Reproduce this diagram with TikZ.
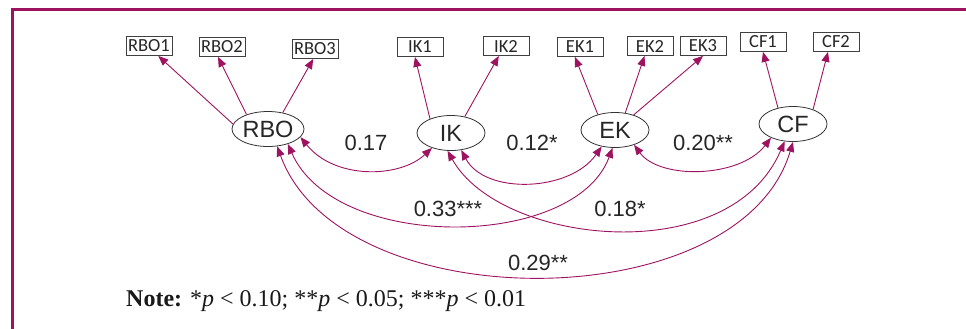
\documentclass[tikz,border=0pt]{standalone}
\usepackage{fontspec}
\setmainfont{Liberation Serif}
\newfontfamily\boxfont{Carlito}
\newfontfamily\lblfont{Liberation Sans}
\usetikzlibrary{arrows.meta,shapes.geometric}
\definecolor{mag}{HTML}{9E1360}
\tikzset{
 obs/.style={draw=black!75, line width=0.8pt, minimum width=46pt, minimum height=19pt, inner sep=0pt, font=\boxfont\fontsize{18.5}{18}\selectfont, text=black!85},
 lat/.style={ellipse, draw=black!80, line width=0.8pt, minimum width=68pt, minimum height=35pt, inner sep=0pt, font=\lblfont\fontsize{23.5}{24}\selectfont, text=black!85, fill=white},
 load/.style={draw=mag, line width=0.9pt, -{Triangle[length=10pt,width=8pt]}},
 cov/.style={draw=mag, line width=0.9pt, {Triangle[length=10pt,width=8pt]}-{Triangle[length=10pt,width=8pt]}},
 est/.style={font=\lblfont\fontsize{22}{24}\selectfont, text=black!85, inner sep=0pt},
}
\begin{document}
\begin{tikzpicture}[x=1pt,y=-1pt]
\useasboundingbox (0,0) rectangle (966,329);
\draw[mag, line width=3pt] (12.5,329) -- (12.5,9.5) -- (966,9.5);
% observed boxes
\node[obs] (RBO1) at (149,46) {RBO1};
\node[obs] (RBO2) at (222,47) {RBO2};
\node[obs] (RBO3) at (315,49) {RBO3};
\node[obs] (IK1) at (420,47) {IK1};
\node[obs] (IK2) at (506,46) {IK2};
\node[obs] (EK1) at (580,47) {EK1};
\node[obs] (EK2) at (650,46) {EK2};
\node[obs] (EK3) at (703,46) {EK3};
\node[obs] (CF1) at (763,42) {CF1};
\node[obs] (CF2) at (836,42) {CF2};
% latent ellipses
\node[lat] (RBO) at (268,129) {RBO};
\node[lat] (IK) at (451,133) {IK};
\node[lat] (EK) at (615,130) {EK};
\node[lat] (CF) at (793,124) {CF};
% loadings
\draw[load] (RBO.172) -- (RBO1.-47);
\draw[load] (RBO.146) -- (RBO2.-112);
\draw[load] (RBO.48) -- (RBO3.-100);
\draw[load] (IK.146) -- (IK1.-117);
\draw[load] (IK.50) -- (IK2.-126);
\draw[load] (EK.138) -- (EK1.-117);
\draw[load] (EK.59) -- (EK2.-119);
\draw[load] (EK.39) -- (EK3.-90);
\draw[load] (CF.133) -- (CF1.-90);
\draw[load] (CF.36) -- (CF2.-129);
% covariances
\draw[cov] (RBO.-14) .. controls (335,180) and (400,178) .. (IK.-142);
\draw[cov] (IK.-59) .. controls (485,195) and (570,192) .. (EK.-129);
\draw[cov] (EK.-38) .. controls (660,180) and (740,178) .. (CF.-148);
\draw[cov] (RBO.-37) .. controls (335,252) and (575,250) .. (EK.-98);
\draw[cov] (IK.-101) .. controls (500,245) and (730,270) .. (CF.-116);
\draw[cov] (RBO.-62) .. controls (340,320) and (740,320) .. (CF.-90);
% estimates
\node[est] (e1) at (366,143) {0.17};
\node[est] (e2) at (532,143) {0.12*};
\node[est] (e3) at (703,143) {0.20**};
\node[est] (e4) at (448,209) {0.33***};
\node[est] (e5) at (620,209) {0.18*};
\node[est] (e6) at (538,263) {0.29**};
\node[anchor=base west, inner sep=0pt, font=\fontsize{24}{26}\selectfont, text=black!90] (note) at (126,306) {\textbf{Note:} *\textit{p} < 0.10; **\textit{p} < 0.05; ***\textit{p} < 0.01};
\end{tikzpicture}
\end{document}
